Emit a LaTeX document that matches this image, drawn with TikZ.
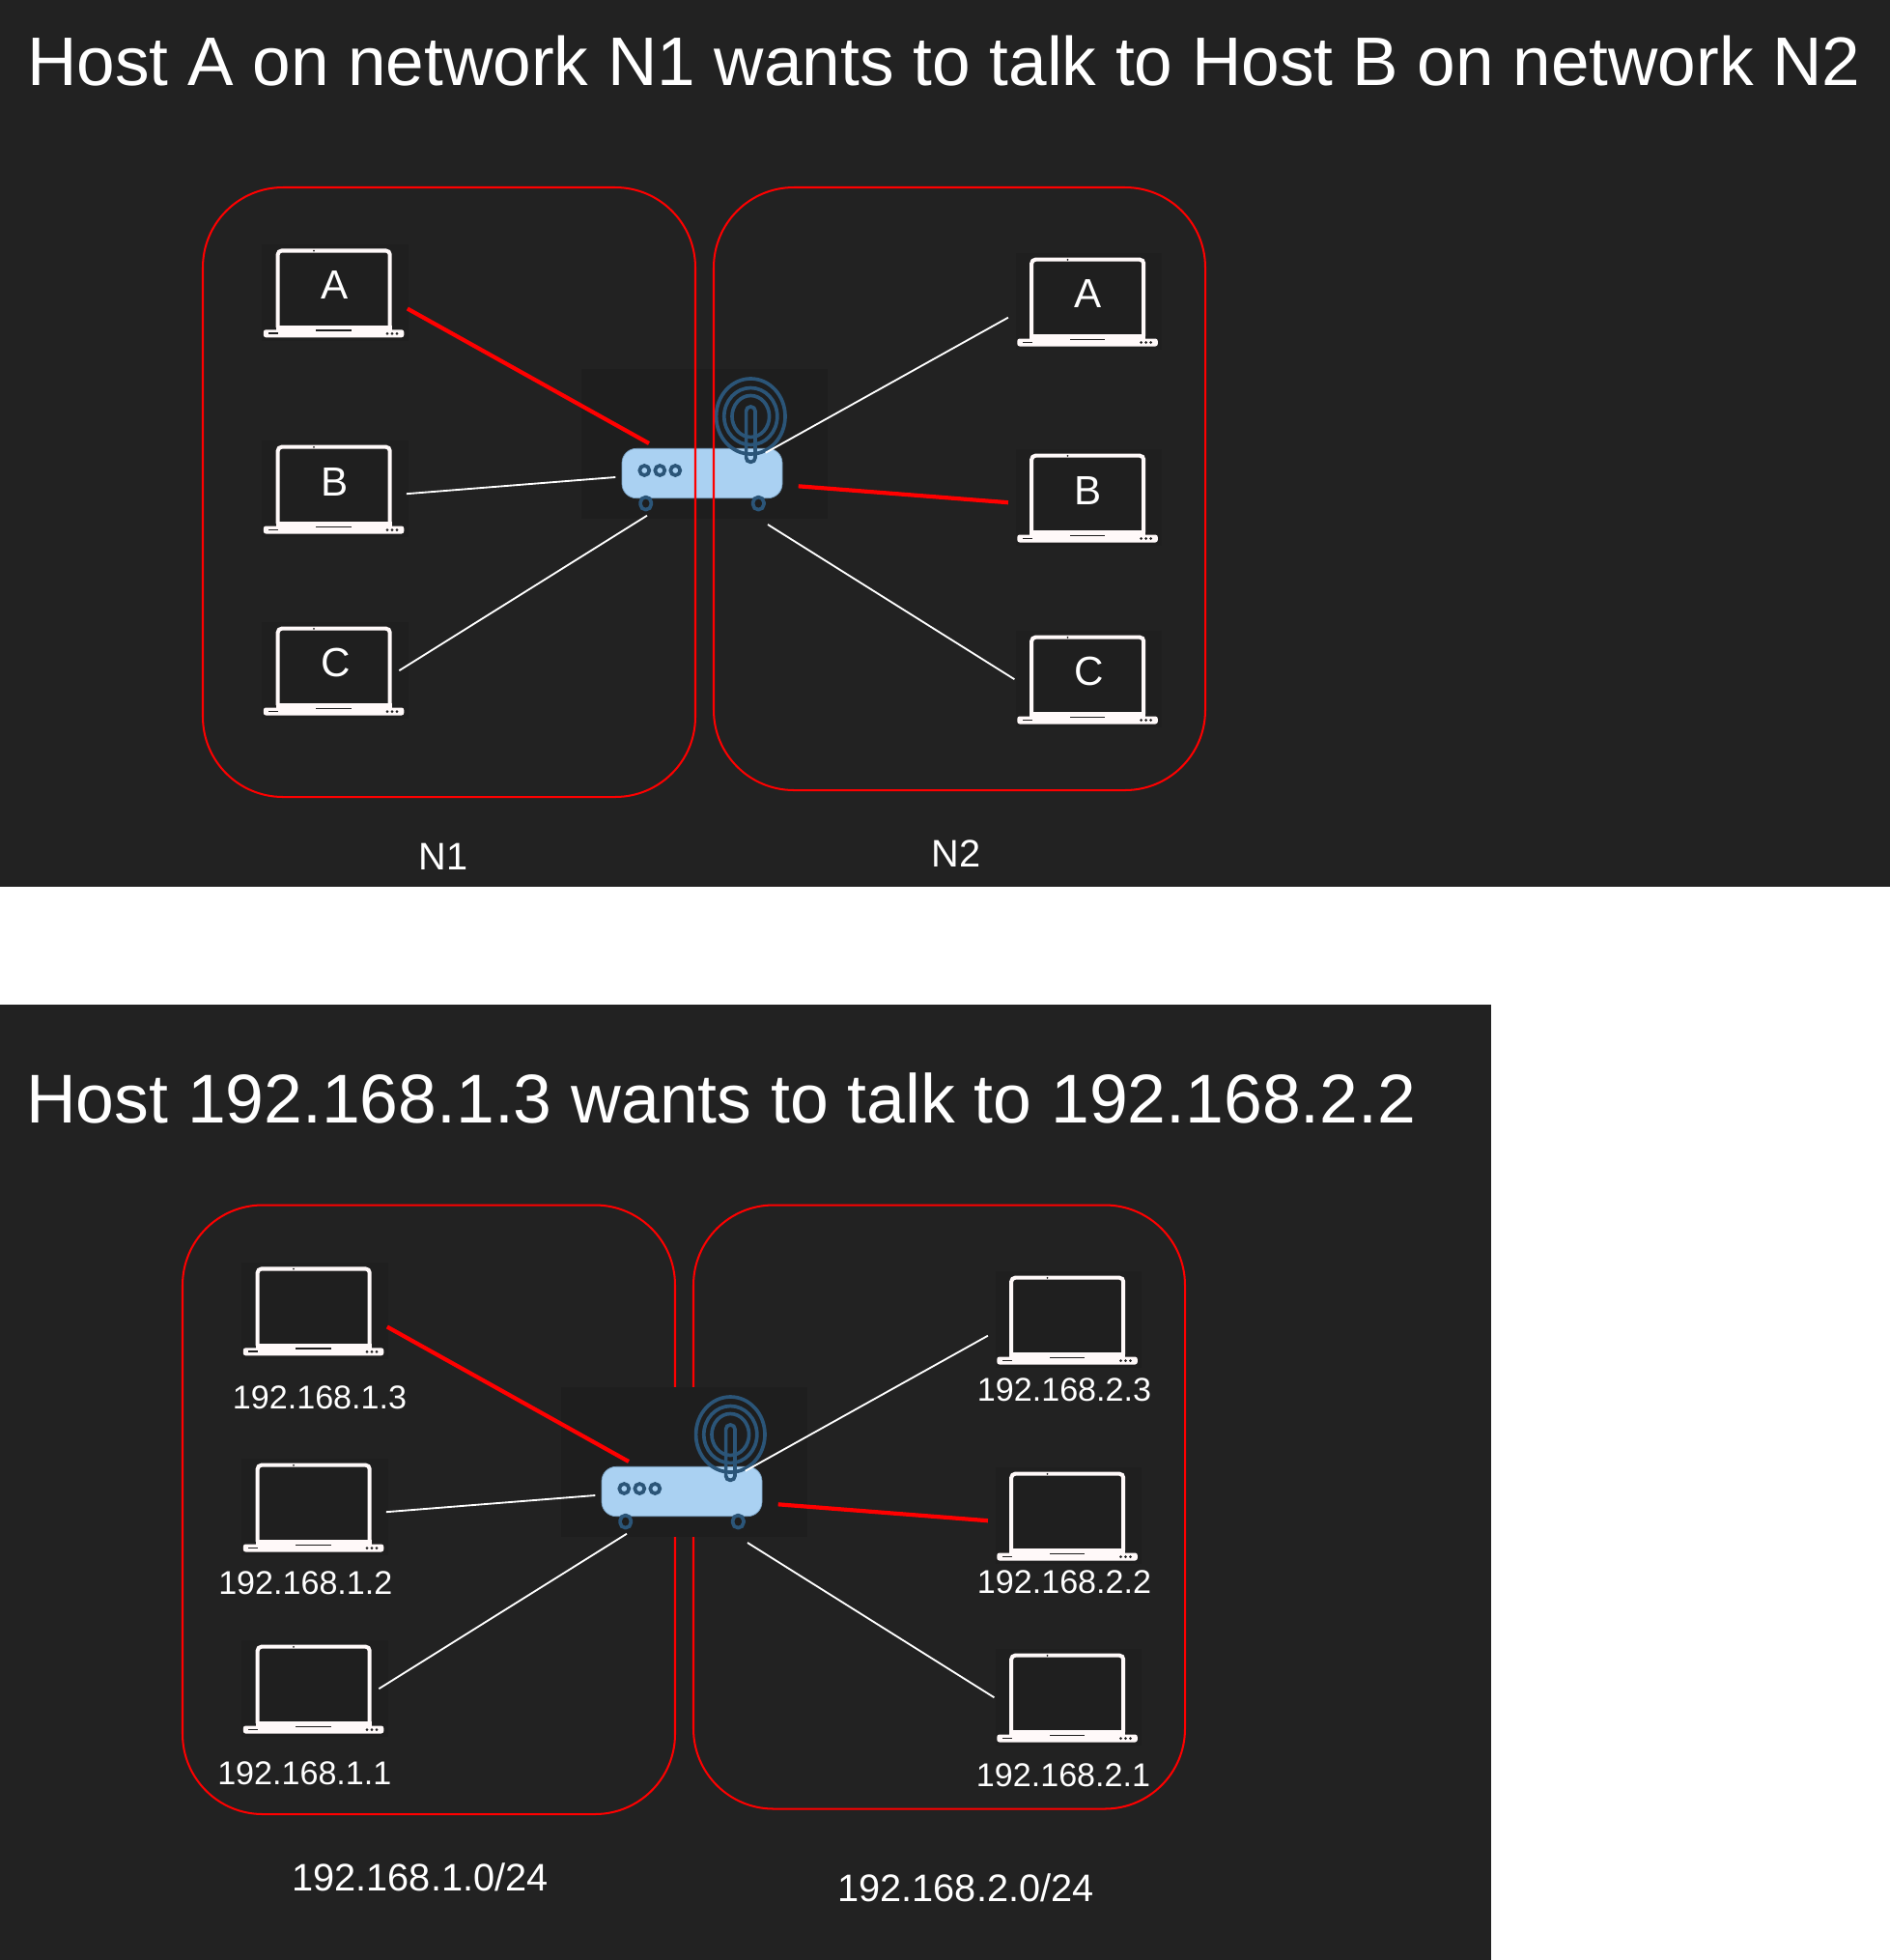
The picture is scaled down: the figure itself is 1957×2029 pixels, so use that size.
\documentclass[tikz,border=0pt]{standalone}
\usepackage{fontspec}
\setmainfont{Liberation Sans}
\definecolor{panelgray}{HTML}{222222}
\definecolor{icongray}{HTML}{1E1E1E}
\definecolor{hostgray}{HTML}{1F1F1F}
\definecolor{lapwhite}{HTML}{FFF9F9}
\definecolor{routerblue}{HTML}{2B5578}
\definecolor{routerbody}{HTML}{AAD1F2}
\definecolor{netred}{HTML}{FF0000}
\tikzset{
  panel/.style={fill=panelgray},
  netbox/.style={draw=netred,line width=1.15pt,rounded corners=1.66cm},
  hostbox/.style={fill=hostgray,inner sep=0pt,minimum width=3.04cm,minimum height=2cm},
  routerbox/.style={fill=icongray,inner sep=0pt,minimum width=5.1cm,minimum height=3.1cm},
  link/.style={draw=white,line width=1.05pt},
  redlink/.style={draw=netred,line width=2.4pt},
  antenna/.style={draw=routerblue,line width=2.1pt},
  titletext/.style={text=white,anchor=base west,font=\fontsize{40.5}{48}\selectfont},
  hosttext/.style={text=white,font=\fontsize{24}{28}\selectfont},
  iptext/.style={text=white,font=\fontsize{19.4}{23}\selectfont},
  nettext/.style={text=white,font=\fontsize{22.6}{26}\selectfont},
  laptop/.pic={
    \draw[lapwhite,line width=2.3pt,rounded corners=.08cm] (-59.3,36) |- (56.7,-43.5) -- (56.7,36);
    \fill[lapwhite] (-61.3,33.7) rectangle (58.7,40);
    \fill[lapwhite,rounded corners=.05cm] (-74.2,38.3) rectangle (71.3,46.3);
    \fill[icongray] (-22,-43.3) circle (1);
    \fill[icongray] (-68.7,41.4) rectangle (-59,42.6);
    \fill[icongray] (-19.7,38.3) rectangle (16.7,39.7);
    \foreach \dotx in {54,59,64} \fill[icongray] (\dotx,42.3) circle (1.5);
  },
  network/.pic={
    % router
    \node[routerbox] (router) at (729.5,459.5) {};
    \fill[routerbody,draw=routerbody!60!routerblue,line width=.4pt,rounded corners=.3cm] (644,464.3) rectangle (810,515.7);
    \foreach \lampx in {667.3,683.3,699.3} \draw[antenna] (\lampx,487) circle (5);
    \foreach \footx in {668.7,785.3} \draw[antenna,fill=icongray,rounded corners=.11cm] (\footx-5.6,514.6) rectangle (\footx+5.6,527.6);
    \draw[antenna] (777.3,431) ellipse [x radius=35.7,y radius=39];
    \draw[antenna] (777.3,431) ellipse [x radius=27.5,y radius=29.5];
    \draw[antenna] (777.3,431) ellipse [x radius=19.3,y radius=21.5];
    \draw[antenna,rounded corners=.09cm] (772.6,421) rectangle (782,478.3);
    % hosts
    \foreach \hostname/\hostx/\hosty in {A1/347/303,B1/347/506.2,C1/347/694.2,A2/1127.5/312.2,B2/1127.5/515.2,C2/1127.5/703.2} {
      \node[hostbox] (host\hostname) at (\hostx,\hosty) {};
      \pic at (host\hostname) {laptop};
    }
    % ends near the router
    \coordinate (portA1) at (672,459);
    \coordinate (portB1) at (637.3,494);
    \coordinate (portC1) at (670,533.7);
    \coordinate (portA2) at (792.7,468.7);
    \coordinate (portB2) at (826.7,503.3);
    \coordinate (portC2) at (795,543);
    % links
    \draw[redlink] ([shift={(-.03cm,-.33cm)}]hostA1.east) -- (portA1);
    \draw[link] ([shift={(-.05cm,-.1cm)}]hostB1.east) -- (portB1);
    \draw[link] ([xshift=-.2cm]hostC1.east) -- (portC1);
    \draw[link] ([shift={(-.145cm,-.33cm)}]hostA2.west) -- (portA2);
    \draw[redlink] ([shift={(-.145cm,-.1cm)}]hostB2.west) -- (portB2);
    \draw[link] ([xshift=-.015cm]hostC2.west) -- (portC2);
  }
}
\begin{document}
\begin{tikzpicture}[x=.02cm,y=-.02cm]
\useasboundingbox (0,0) rectangle (1957,2029);
\fill[white] (0,0) rectangle (1957,2029);
% upper panel
\fill[panel] (0,0) rectangle (1957,918);
\node[titletext] (titleTop) at (22,88) {Host A on network N1 wants to talk to Host B on network N2};
\pic (top) at (0,0) {network};
\draw[netbox] (210,194) rectangle (720,825);
\draw[netbox] (739,194) rectangle (1248,818);
\node[hosttext] (letterA1) at (346.3,295) {A};
\node[hosttext] (letterB1) at (346.3,499) {B};
\node[hosttext] (letterC1) at (347.3,686) {C};
\node[hosttext] (letterA2) at (1126.3,304) {A};
\node[hosttext] (letterB2) at (1126.3,508) {B};
\node[hosttext] (letterC2) at (1127.3,695) {C};
\node[nettext] (labelN1) at (459,887) {N1};
\node[nettext] (labelN2) at (990,884) {N2};
% lower panel
\fill[panel] (0,1040) rectangle (1544,2029);
\node[titletext,font=\fontsize{40.7}{48}\selectfont] (titleLow) at (21,1162) {Host 192.168.1.3 wants to talk to 192.168.2.2};
\draw[netbox] (189,1247.5) rectangle (699,1878);
\draw[netbox] (718,1247.5) rectangle (1227,1872.5);
\pic (low) at (-21,1054) {network};
\node[iptext] (ipA1) at (331,1447) {192.168.1.3};
\node[iptext] (ipB1) at (316.3,1639) {192.168.1.2};
\node[iptext] (ipC1) at (315.3,1836) {192.168.1.1};
\node[iptext] (ipA2) at (1102,1439) {192.168.2.3};
\node[iptext] (ipB2) at (1102,1638) {192.168.2.2};
\node[iptext] (ipC2) at (1101,1838) {192.168.2.1};
\node[nettext] (subnetN1) at (435,1943) {192.168.1.0/24};
\node[nettext] (subnetN2) at (1000,1954) {192.168.2.0/24};
\end{tikzpicture}
\end{document}
